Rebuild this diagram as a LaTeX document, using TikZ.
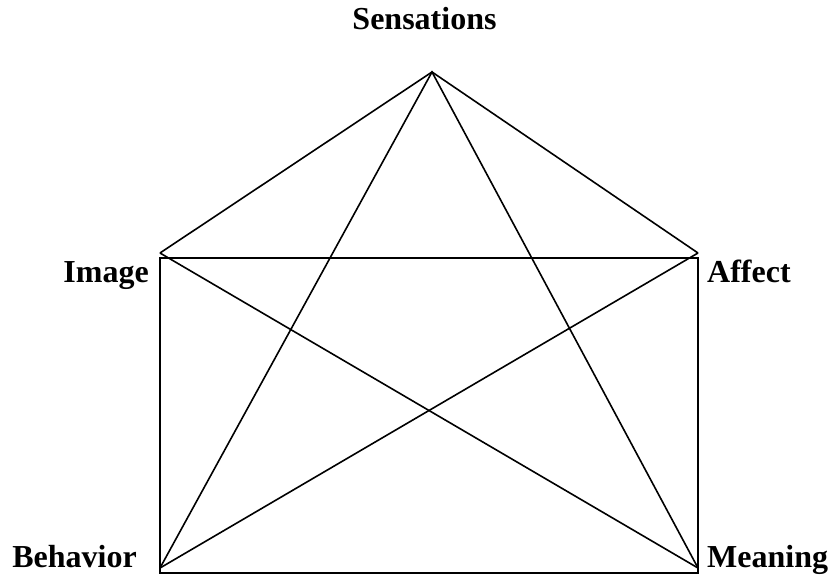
\documentclass[tikz,border=0pt]{standalone}
\usepackage{fontspec}
\setmainfont{Liberation Serif}
\begin{document}
\begin{tikzpicture}[x=1pt,y=-1pt,
  lbl/.style={inner sep=0pt,font=\fontsize{32}{36}\selectfont\bfseries},
  edge/.style={line width=1.6pt,line join=miter}]
\useasboundingbox (0,0) rectangle (835,580);
% vertices
\coordinate (S) at (432,72);
\coordinate (I) at (160,253);
\coordinate (A) at (698,253);
\coordinate (B) at (160,568);
\coordinate (M) at (698,568);
\coordinate (R1) at (160,258);
\coordinate (R2) at (698,573);
% labels
\node[lbl,anchor=base] (ls) at (424.5,30) {Sensations};
\node[lbl,anchor=base east] (li) at (149,282) {Image};
\node[lbl,anchor=base west] (la) at (707,282) {Affect};
\node[lbl,anchor=base east] (lb) at (137,567) {Behavior};
\node[lbl,anchor=base west] (lm) at (707,567) {Meaning};
% rectangle
\draw[edge] (R1) rectangle (R2);
% connectors
\draw[edge] (I) -- (S) -- (A);
\draw[edge] (B) -- (S) -- (M);
\draw[edge] (I) -- (M);
\draw[edge] (A) -- (B);
\end{tikzpicture}
\end{document}
